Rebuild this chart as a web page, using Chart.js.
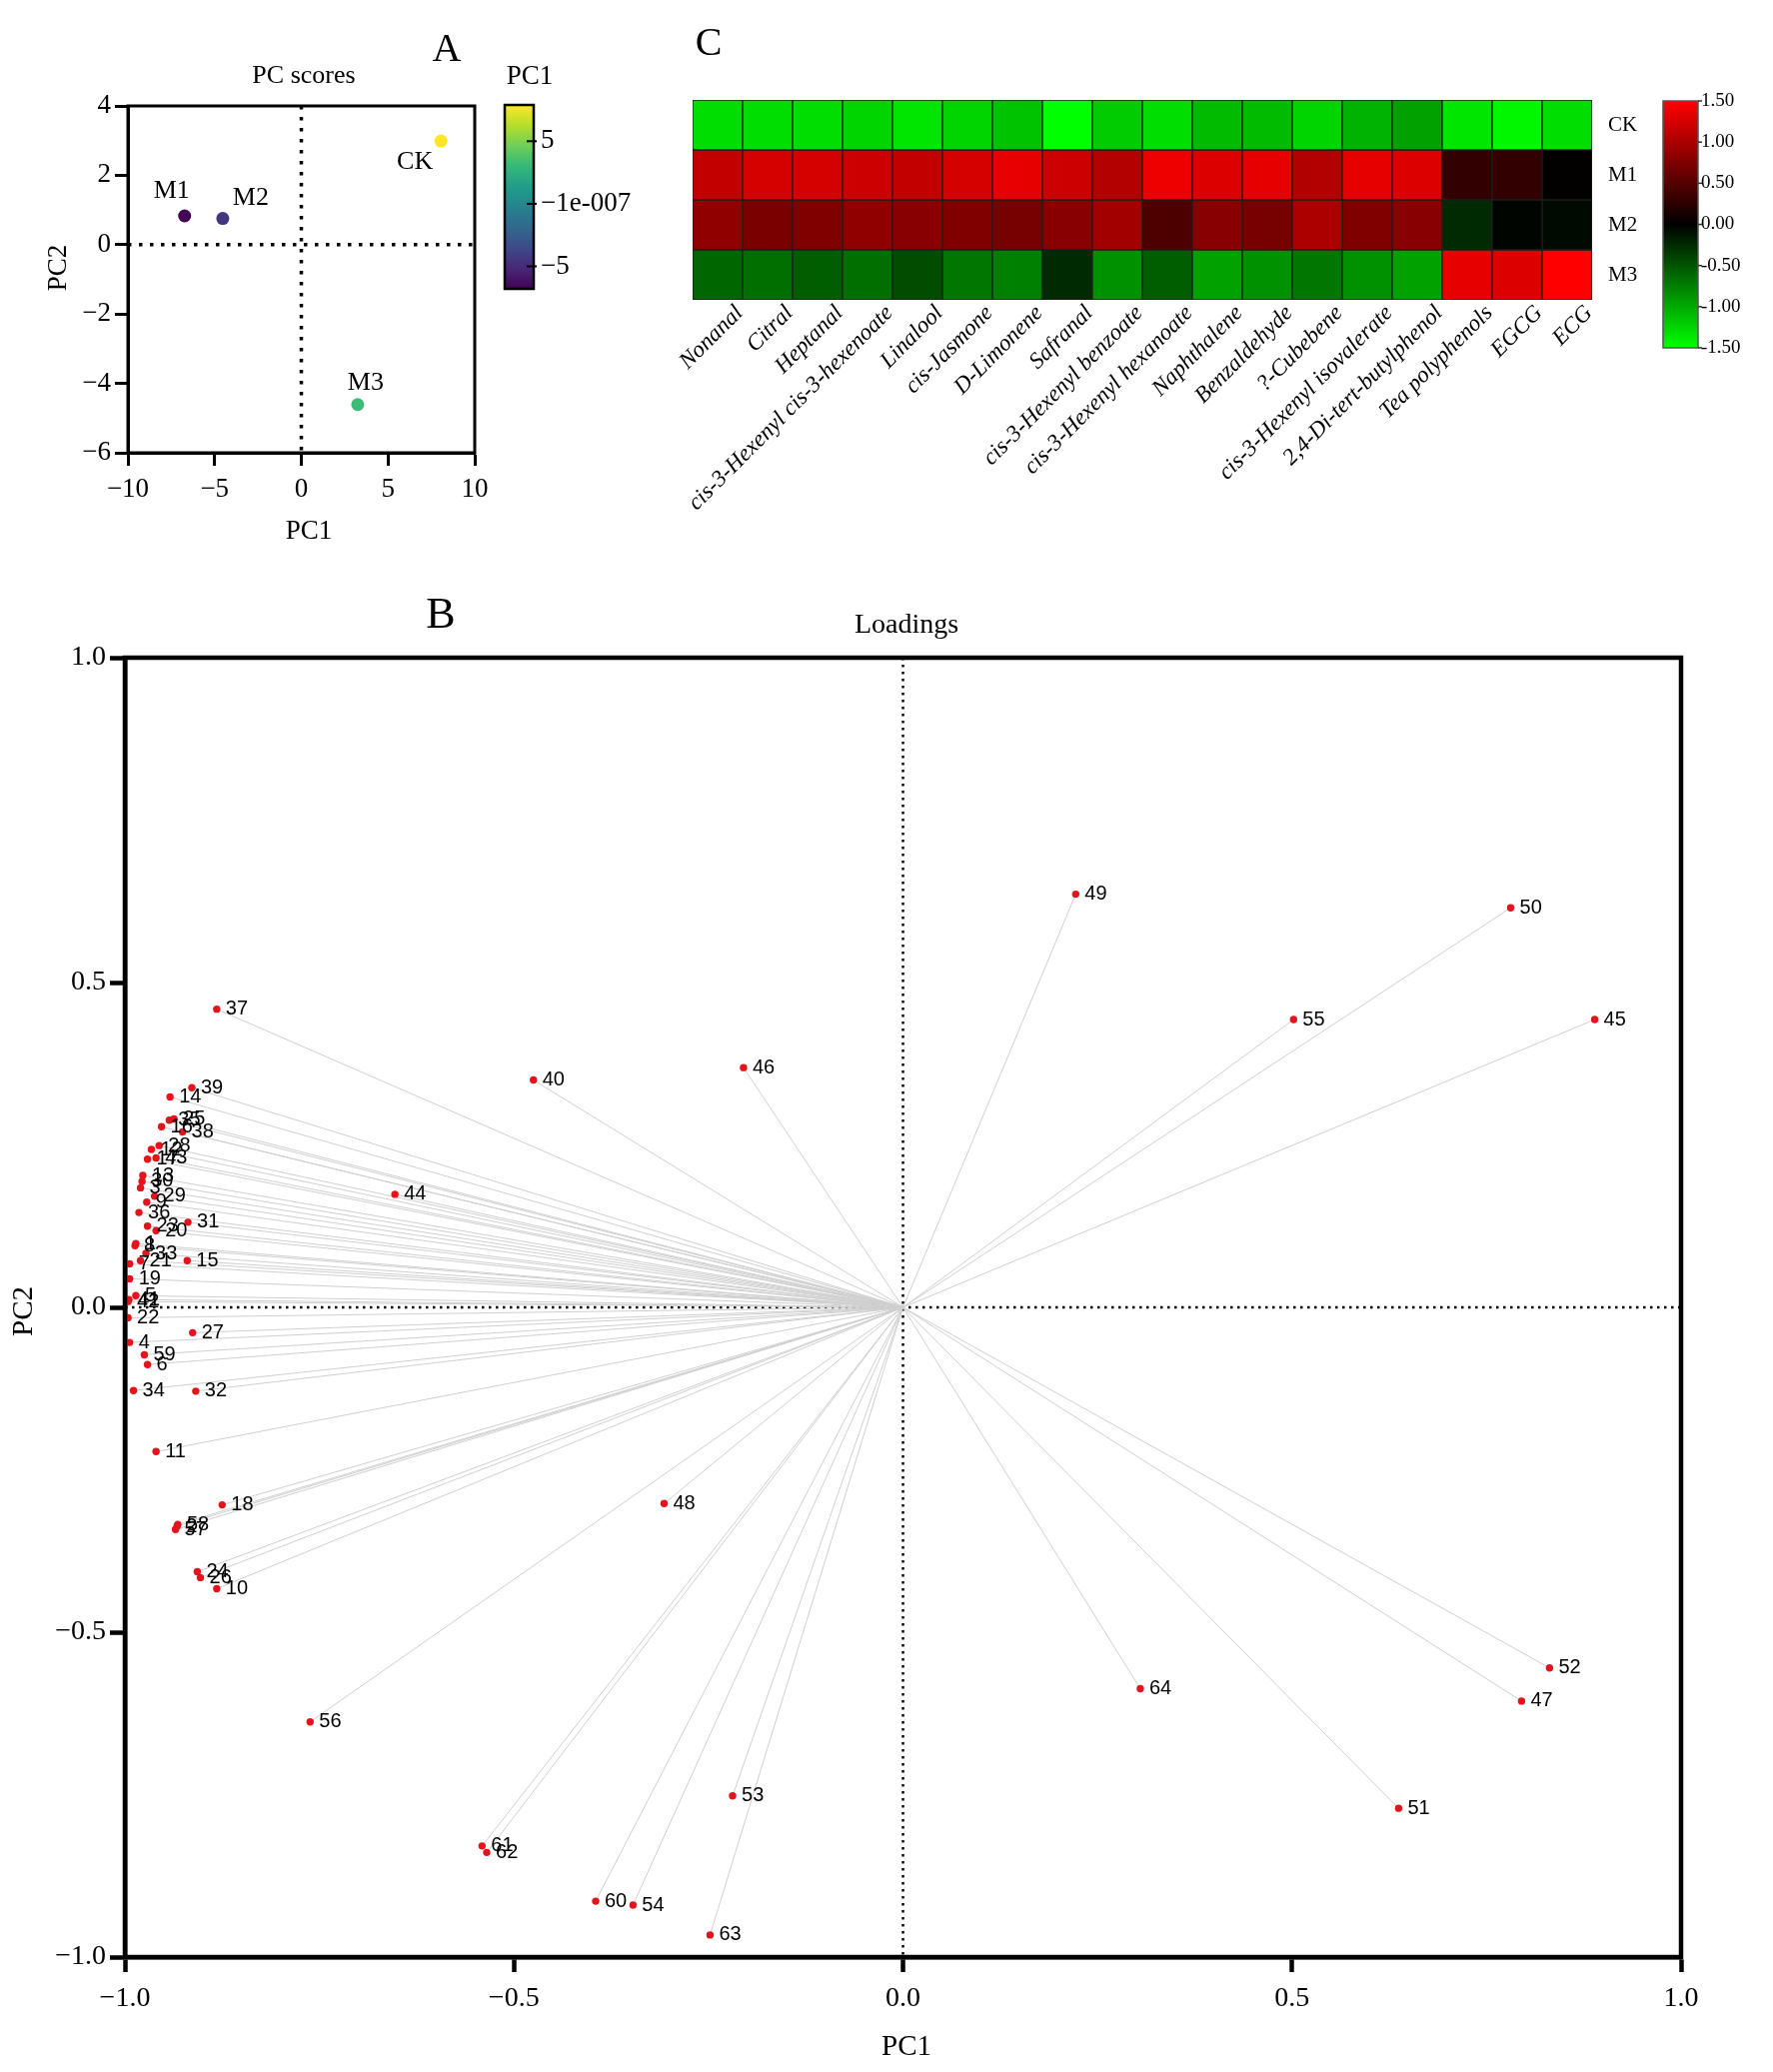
<!DOCTYPE html>
<html>
<head>
<meta charset="utf-8">
<script src="https://cdn.jsdelivr.net/npm/chart.js@4.4.1/dist/chart.umd.min.js"></script>
<style>
html,body{margin:0;padding:0;background:#fff;}
#wrap{position:relative;width:1774px;height:2073px;background:#fff;overflow:hidden;}
canvas{position:absolute;}
</style>
</head>
<body>
<div id="wrap">
  <canvas id="scoreChart" width="660" height="560" style="left:0;top:0;width:660px;height:560px"></canvas>
  <canvas id="heatChart" width="1174" height="560" style="left:600px;top:0;width:1174px;height:560px"></canvas>
  <canvas id="loadChart" width="1774" height="1513" style="left:0;top:560px;width:1774px;height:1513px"></canvas>
</div>
<script>
// ---- panel A : PC scores ----
const scoreNames = ["CK", "M1", "M2", "M3"];
const scorePC1 = [8.05, -6.73, -4.53, 3.25];
const scorePC2 = [2.99, 0.83, 0.755, -4.61];
const scoreBarTicks = [5, 0, -5];
const scoreBarLabels = ["5", "\u22121e-007", "\u22125"];
const scoreBarMin = -6.8, scoreBarMax = 7.9;

// ---- panel C : heatmap ----
const compounds = ["Nonanal", "Citral", "Heptanal", "cis-3-Hexenyl cis-3-hexenoate", "Linalool",
  "cis-Jasmone", "D-Limonene", "Safranal", "cis-3-Hexenyl benzoate", "cis-3-Hexenyl hexanoate",
  "Naphthalene", "Benzaldehyde", "?-Cubebene", "cis-3-Hexenyl isovalerate", "2,4-Di-tert-butylphenol",
  "Tea polyphenols", "EGCG", "ECG"];
const heatRows = ["CK", "M1", "M2", "M3"];
const heatCK = [-1.3, -1.3, -1.3, -1.25, -1.35, -1.25, -1.15, -1.5, -1.2, -1.3, -1.1, -1.1, -1.25, -1.05, -0.95, -1.35, -1.45, -1.3];
const heatM1 = [1.15, 1.25, 1.25, 1.2, 1.15, 1.25, 1.35, 1.2, 1.05, 1.4, 1.3, 1.35, 1.05, 1.35, 1.3, 0.3, 0.3, 0.02];
const heatM2 = [0.85, 0.72, 0.75, 0.85, 0.8, 0.75, 0.7, 0.8, 0.95, 0.45, 0.8, 0.7, 1.0, 0.75, 0.8, -0.25, -0.03, -0.06];
const heatM3 = [-0.6, -0.65, -0.55, -0.65, -0.45, -0.7, -0.75, -0.25, -0.85, -0.55, -0.95, -0.85, -0.7, -0.85, -0.95, 1.35, 1.3, 1.5];
const heatBarTicks = [1.5, 1.0, 0.5, 0.0, -0.5, -1.0, -1.5];

// ---- panel B : loadings ----
const loadIds = [];
for (let i = 1; i <= 64; i++) loadIds.push(String(i));
const loadPC1 = [-0.986, -0.933, -0.980, -0.994, -0.986, -0.971, -0.994, -0.987, -0.972, -0.882,
  -0.960, -0.966, -0.977, -0.942, -0.920, -0.953, -0.971, -0.875, -0.994, -0.960,
  -0.980, -0.996, -0.971, -0.907, -0.937, -0.903, -0.913, -0.956, -0.962, -0.978,
  -0.919, -0.909, -0.973, -0.989, -0.943, -0.982, -0.882, -0.926, -0.914, -0.475,
  -0.995, -0.996, -0.960, -0.653, 0.889, -0.205, 0.795, -0.307, 0.222, 0.781,
  0.637, 0.831, -0.219, -0.347, 0.502, -0.762, -0.935, -0.932, -0.975, -0.395,
  -0.541, -0.535, -0.248, 0.305];
const loadPC2 = [0.098, -0.337, 0.184, -0.054, 0.018, -0.088, 0.067, 0.095, 0.162, -0.433,
  -0.222, 0.243, 0.203, 0.324, 0.072, 0.278, 0.228, -0.304, 0.044, 0.118,
  0.072, -0.016, 0.125, -0.407, 0.290, -0.416, -0.039, 0.249, 0.171, 0.194,
  0.131, -0.129, 0.083, -0.128, 0.288, 0.146, 0.459, 0.270, 0.338, 0.350,
  0.012, 0.009, 0.230, 0.174, 0.443, 0.369, -0.606, -0.302, 0.636, 0.615,
  -0.771, -0.555, -0.752, -0.920, 0.443, -0.638, -0.342, -0.334, -0.073, -0.914,
  -0.829, -0.839, -0.966, -0.587];

const SERIF = "'Liberation Serif', 'Times New Roman', serif";
const SANS = "'Liberation Sans', Arial, sans-serif";
Chart.defaults.font.family = SERIF;
Chart.defaults.color = "#000";

const viridisStops = ["#440154", "#482878", "#3e4989", "#31688e", "#26828e",
  "#1f9e89", "#35b779", "#6ece58", "#b5de2b", "#fde725"];
function hexRgb(h) { return [1, 3, 5].map(k => parseInt(h.substr(k, 2), 16)); }
function viridis(t) {
  t = Math.min(1, Math.max(0, t));
  const n = viridisStops.length - 1;
  const i = Math.min(n - 1, Math.floor(t * n));
  const f = t * n - i;
  const a = hexRgb(viridisStops[i]), b = hexRgb(viridisStops[i + 1]);
  return "rgb(" + a.map((c, k) => Math.round(c + (b[k] - c) * f)).join(",") + ")";
}
function heatColor(v) {
  const t = Math.max(-1.5, Math.min(1.5, v)) / 1.5;
  return t >= 0 ? "rgb(" + Math.round(255 * t) + ",0,0)" : "rgb(0," + Math.round(-255 * t) + ",0)";
}
const minus = (v, d) => (v < 0 ? "\u2212" : "") + Math.abs(v).toFixed(d);

function txt(ctx, s, x, y, font, align, rot) {
  ctx.save();
  ctx.font = font;
  ctx.fillStyle = "#000";
  ctx.textAlign = align || "center";
  ctx.textBaseline = "middle";
  ctx.translate(x, y);
  if (rot) ctx.rotate(rot);
  ctx.fillText(s, 0, 0);
  ctx.restore();
}
function zeroLines(chart, lw, dash) {
  const {ctx, chartArea: a, scales} = chart;
  const x0 = scales.x.getPixelForValue(0), y0 = scales.y.getPixelForValue(0);
  ctx.save();
  ctx.strokeStyle = "#000";
  ctx.lineWidth = lw;
  ctx.setLineDash(dash);
  ctx.beginPath();
  ctx.moveTo(x0, a.top); ctx.lineTo(x0, a.bottom);
  ctx.moveTo(a.left, y0); ctx.lineTo(a.right, y0);
  ctx.stroke();
  ctx.restore();
}
function frame(chart, lw) {
  const {ctx, chartArea: a} = chart;
  ctx.save();
  ctx.strokeStyle = "#000";
  ctx.lineWidth = lw;
  ctx.strokeRect(a.left, a.top, a.right - a.left, a.bottom - a.top);
  ctx.restore();
}

// ===============================
// A: PC scores
// ===============================
const scoreLabelOffsets = [[-26, 21], [-13, -25], [28, -20], [8, -22]];
const scorePlugin = {
  id: "scoreDeco",
  beforeDatasetsDraw(chart) { zeroLines(chart, 3.5, [3.5, 7.5]); },
  afterDraw(chart) {
    const ctx = chart.ctx;
    frame(chart, 3);
    chart.getDatasetMeta(0).data.forEach((p, i) => {
      txt(ctx, scoreNames[i], p.x + scoreLabelOffsets[i][0], p.y + scoreLabelOffsets[i][1], "26px " + SERIF);
    });
    txt(ctx, "A", 447, 50, "40px " + SERIF);
    txt(ctx, "PC scores", 304, 76, "26px " + SERIF);
    txt(ctx, "PC1", 309, 532, "27px " + SERIF);
    txt(ctx, "PC2", 59, 268, "27px " + SERIF, "center", -Math.PI / 2);
    // colour bar
    const bx = 505, bw = 29, top = 105, bot = 289;
    const g = ctx.createLinearGradient(0, bot, 0, top);
    viridisStops.forEach((c, i) => g.addColorStop(i / (viridisStops.length - 1), c));
    ctx.save();
    ctx.fillStyle = g;
    ctx.fillRect(bx, top, bw, bot - top);
    ctx.strokeStyle = "#000";
    ctx.lineWidth = 2.5;
    ctx.strokeRect(bx, top, bw, bot - top);
    scoreBarTicks.forEach((v, i) => {
      const y = bot - (v - scoreBarMin) / (scoreBarMax - scoreBarMin) * (bot - top);
      ctx.lineWidth = 2;
      ctx.beginPath(); ctx.moveTo(bx + bw - 7, y); ctx.lineTo(bx + bw + 3, y); ctx.stroke();
      txt(ctx, scoreBarLabels[i], bx + bw + 7, y, "27px " + SERIF, "left");
    });
    ctx.restore();
    txt(ctx, "PC1", 530, 77, "27px " + SERIF);
  }
};

new Chart(document.getElementById("scoreChart"), {
  type: "scatter",
  data: {
    datasets: [{
      data: scoreNames.map((n, i) => ({x: scorePC1[i], y: scorePC2[i]})),
      pointRadius: 6.5,
      pointBorderWidth: 0,
      pointBackgroundColor: scorePC1.map(v => viridis((v - scoreBarMin) / (scoreBarMax - scoreBarMin)))
    }]
  },
  options: {
    responsive: false, animation: false, events: [],
    layout: {padding: {left: 0, top: 106, right: 185, bottom: 0}},
    plugins: {legend: {display: false}, tooltip: {enabled: false}},
    scales: {
      x: {
        type: "linear", min: -10, max: 10,
        ticks: {stepSize: 5, maxRotation: 0, padding: 8, font: {size: 27}, callback: v => minus(v, 0)},
        grid: {drawOnChartArea: false, tickLength: 13, tickWidth: 3, tickColor: "#000"},
        border: {color: "#000", width: 3},
        afterFit(s) { s.height = 107; }
      },
      y: {
        type: "linear", min: -6, max: 4,
        ticks: {stepSize: 2, padding: 4, font: {size: 27}, callback: v => minus(v, 0)},
        grid: {drawOnChartArea: false, tickLength: 13, tickWidth: 3, tickColor: "#000"},
        border: {color: "#000", width: 3},
        afterFit(s) { s.width = 128; }
      }
    }
  },
  plugins: [scorePlugin]
});

// ===============================
// C: heatmap
// ===============================
const heatValues = [heatCK, heatM1, heatM2, heatM3];
const heatPlugin = {
  id: "heatDeco",
  afterDraw(chart) {
    const ctx = chart.ctx;
    txt(ctx, "C", 109, 44, "40px " + SERIF);
    const bx = 1064, bw = 35, top = 101, bot = 348;
    const g = ctx.createLinearGradient(0, top, 0, bot);
    g.addColorStop(0, "#ff0000");
    g.addColorStop(0.5, "#000000");
    g.addColorStop(1, "#00ff00");
    ctx.save();
    ctx.fillStyle = g;
    ctx.fillRect(bx, top, bw, bot - top);
    ctx.strokeStyle = "#555";
    ctx.lineWidth = 1.5;
    ctx.strokeRect(bx, top, bw, bot - top);
    heatBarTicks.forEach(v => {
      const y = top + (1.5 - v) / 3 * (bot - top);
      ctx.strokeStyle = "#333";
      ctx.beginPath(); ctx.moveTo(bx + bw, y); ctx.lineTo(bx + bw + 4, y); ctx.stroke();
      txt(ctx, v.toFixed(2), bx + bw + 3, y, "19px " + SERIF, "left");
    });
    ctx.restore();
  }
};

new Chart(document.getElementById("heatChart"), {
  type: "bar",
  data: {
    labels: compounds,
    datasets: heatRows.map((r, ri) => ({
      label: r,
      data: compounds.map(() => [3 - ri, 4 - ri]),
      backgroundColor: heatValues[ri].map(heatColor),
      borderColor: "#1e1e1e",
      borderWidth: 1,
      borderSkipped: false,
      barPercentage: 1,
      categoryPercentage: 1,
      grouped: false
    }))
  },
  options: {
    responsive: false, animation: false, events: [],
    layout: {padding: {left: 93, top: 100, right: 0, bottom: 0}},
    plugins: {legend: {display: false}, tooltip: {enabled: false}},
    scales: {
      x: {
        type: "category",
        ticks: {autoSkip: false, minRotation: 45, maxRotation: 45, padding: -8, labelOffset: 22,
          font: {size: 23, style: "italic"}},
        grid: {display: false},
        border: {display: false},
        afterFit(s) { s.height = 260; }
      },
      y: {
        type: "linear", position: "right", min: 0, max: 4,
        afterBuildTicks(s) { s.ticks = [3.5, 2.5, 1.5, 0.5].map(v => ({value: v})); },
        ticks: {padding: 8, font: {size: 21}, callback: v => heatRows[3 - Math.floor(v)]},
        grid: {display: false},
        border: {display: false},
        afterFit(s) { s.width = 181; }
      }
    }
  },
  plugins: [heatPlugin]
});

// ===============================
// B: loadings
// ===============================
const spokes = [];
loadPC1.forEach((x, i) => {
  spokes.push({x: 0, y: 0}, {x: x, y: loadPC2[i]}, {x: 0, y: null});
});
const loadPlugin = {
  id: "loadDeco",
  beforeDatasetsDraw(chart) { zeroLines(chart, 2.5, [2.5, 4.5]); },
  afterDatasetsDraw(chart) {
    const ctx = chart.ctx;
    chart.getDatasetMeta(0).data.forEach((p, i) => {
      txt(ctx, loadIds[i], p.x + 9, p.y, "20px " + SANS, "left");
    });
  },
  afterDraw(chart) {
    const ctx = chart.ctx;
    frame(chart, 4.5);
    txt(ctx, "B", 441, 56, "44px " + SERIF);
    txt(ctx, "Loadings", 907, 66, "28px " + SERIF);
    txt(ctx, "PC1", 907, 1488, "29px " + SERIF);
    txt(ctx, "PC2", 24, 752, "29px " + SERIF, "center", -Math.PI / 2);
  }
};

new Chart(document.getElementById("loadChart"), {
  type: "scatter",
  data: {
    datasets: [{
      data: loadPC1.map((x, i) => ({x: x, y: loadPC2[i]})),
      pointRadius: 3.7,
      pointBorderWidth: 0,
      pointBackgroundColor: "#e3141b",
      order: 0
    }, {
      data: spokes,
      showLine: true,
      spanGaps: false,
      pointRadius: 0,
      borderColor: "#cfcfcf",
      borderWidth: 1,
      order: 1
    }]
  },
  options: {
    responsive: false, animation: false, events: [],
    layout: {padding: {left: 0, top: 98, right: 92, bottom: 0}},
    plugins: {legend: {display: false}, tooltip: {enabled: false}},
    scales: {
      x: {
        type: "linear", min: -1, max: 1,
        ticks: {stepSize: 0.5, maxRotation: 0, padding: 10, font: {size: 28}, callback: v => minus(v, 1)},
        grid: {drawOnChartArea: false, tickLength: 15, tickWidth: 4.5, tickColor: "#000"},
        border: {color: "#000", width: 4.5},
        afterFit(s) { s.height = 115; }
      },
      y: {
        type: "linear", min: -1, max: 1,
        ticks: {stepSize: 0.5, padding: 4, font: {size: 28}, callback: v => minus(v, 1)},
        grid: {drawOnChartArea: false, tickLength: 15, tickWidth: 4.5, tickColor: "#000"},
        border: {color: "#000", width: 4.5},
        afterFit(s) { s.width = 125; }
      }
    }
  },
  plugins: [loadPlugin]
});
</script>
</body>
</html>
